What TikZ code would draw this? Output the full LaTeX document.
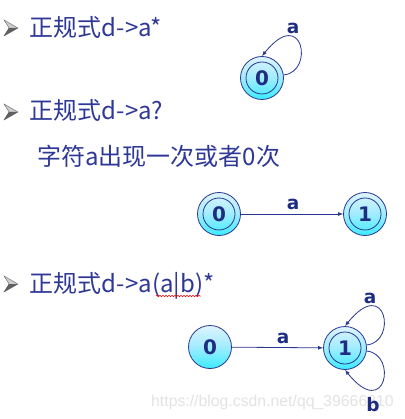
\documentclass[tikz,border=0pt]{standalone}
\usepackage{fontspec}
\newfontfamily\cjk{Noto Sans CJK SC}
\newfontfamily\labfont{DejaVu Sans}
\newfontfamily\wmfont{Liberation Sans}
\usetikzlibrary{arrows.meta,decorations.pathmorphing}
\definecolor{txt}{RGB}{46,56,150}
\definecolor{navy}{RGB}{30,45,130}
\definecolor{edgec}{RGB}{40,55,145}
\definecolor{ntop}{RGB}{222,244,255}
\definecolor{nmid}{RGB}{160,236,255}
\definecolor{nbot}{RGB}{60,236,255}
\tikzset{
  bul/.pic={
    \fill[gray!40] (0,-8) -- (14,0) -- (5,0) -- cycle;
    \fill[gray!75!black] (5,0) -- (14,0) -- (0,8) -- cycle;
    \draw[gray!60!black, line width=0.3pt] (0,-8) -- (14,0) -- (0,8) -- (5,0) -- cycle;
  }
}
\begin{document}
\begin{tikzpicture}[x=1pt,y=-1pt,
  st/.style={circle, draw=edgec, line width=0.8pt, minimum size=43pt, inner sep=0pt,
    top color=ntop, bottom color=nbot, middle color=nmid,
    font=\labfont\bfseries\fontsize{20}{20}\selectfont, text=navy},
  acc/.style={st, path picture={\draw[edgec,line width=0.8pt] (path picture bounding box.center) circle (16pt);}},
  tr/.style={draw=edgec, line width=0.8pt, -{Latex[length=5pt,width=4pt]}},
  lab/.style={font=\labfont\bfseries\fontsize{18.5}{18.5}\selectfont, text=navy, inner sep=0pt},
  txtline/.style={font=\cjk\fontsize{24}{26}\selectfont, text=txt, anchor=base west, inner sep=0pt},
]
\useasboundingbox[fill=white] (0,0) rectangle (404,419);

% bullets and text
\pic at (4,28) {bul};
\node[txtline] (t1) at (29,37) {正规式d-{\kern1pt}>a*};
\pic at (4,112) {bul};
\node[txtline] (t2) at (29,120) {正规式d-{\kern1pt}>a?};
\node[txtline] (t3) at (37,166) {字符a出现一次或者0次};
\pic at (4,284) {bul};
\node[txtline] (t4) at (29,292) {正规式d-{\kern1pt}>a(a|b)*};
\draw[red, line width=0.5pt, decorate, decoration={snake, amplitude=0.8pt, segment length=3pt}] (156,296) -- (201,296);

% watermark
\node[font=\wmfont\fontsize{15.8}{16}\selectfont, text=gray!22, anchor=base west, inner sep=0pt] (wm) at (151,406) {https://blog.csdn.net/qq\_39666810};

% diagram 1
\node[acc] (a0) at (262,78) {0};
\draw[tr] (a0.8) .. controls +(31,-3) and +(41,-51) .. (a0.north);
\node[lab] (la0) at (293,28) {a};

% diagram 2
\node[acc] (b0) at (219,214) {0};
\node[acc] (b1) at (365,214) {1};
\draw[tr] (b0) -- (b1);
\node[lab] (lb) at (293,204) {a};

% diagram 3
\node[st] (c0) at (210,347) {0};
\node[acc] (c1) at (345,348) {1};
\draw[tr] (c0) -- (c1);
\node[lab] (lc) at (283,338) {a};
\draw[tr] (c1.8) .. controls +(31,-3) and +(41,-51) .. (c1.north);
\node[lab] (lca) at (370,298) {a};
\draw[tr] (c1.-8) .. controls +(31,3) and +(41,51) .. (c1.south);
\node[lab] (lcb) at (373,405) {b};
\end{tikzpicture}
\end{document}
